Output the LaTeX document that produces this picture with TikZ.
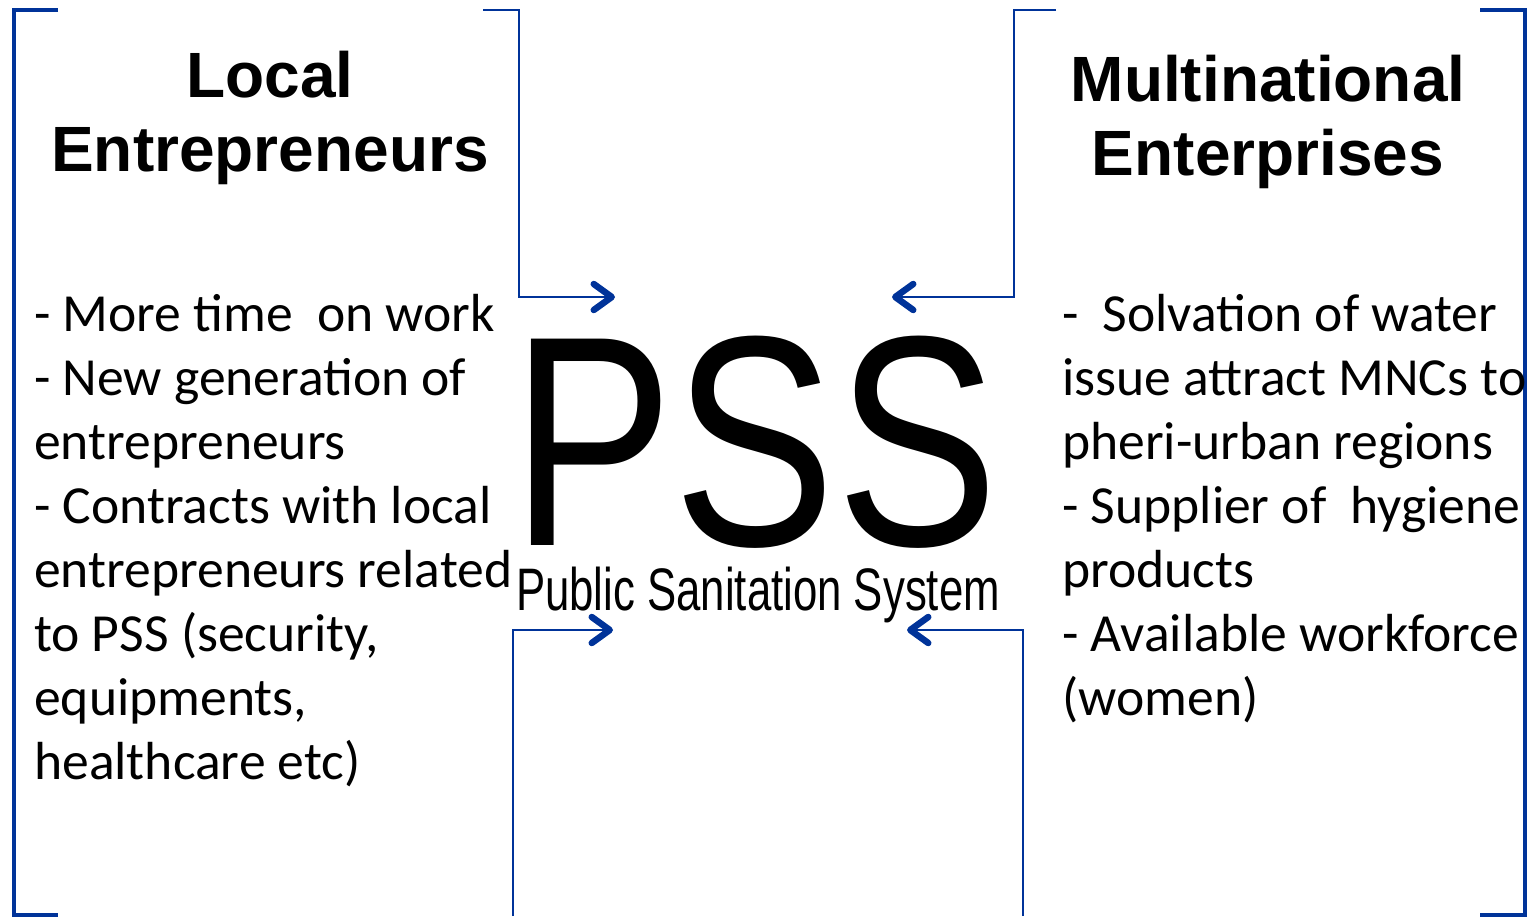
\documentclass[tikz,border=0pt]{standalone}
\usepackage{fontspec}
\setmainfont{Carlito}
\newfontfamily\arialfont{Liberation Sans}
\usetikzlibrary{arrows.meta}
\definecolor{pssblue}{RGB}{0,51,153}

\begin{document}
\begin{tikzpicture}[x=1pt,y=-1pt,
    bracket/.style={draw=pssblue,line width=4pt},
    conn/.style={draw=pssblue,line width=2pt,
      -{Straight Barb[length=18pt,width=26pt,line width=6.5pt,round]}},
    head/.style={font=\arialfont\bfseries\fontsize{64}{74}\selectfont,
      align=center,inner sep=0pt,anchor=base},
    items/.style={font=\fontsize{53.6}{64}\selectfont,
      align=left,inner sep=0pt,anchor=base west}]
  \useasboundingbox (0,0) rectangle (1532,916);

  % side brackets
  \draw[bracket] (58,9.5) -- (13.5,9.5) -- (13.5,914.5) -- (58,914.5);
  \draw[bracket] (1480,9.5) -- (1525,9.5) -- (1525,914.5) -- (1480,914.5);

  % titles (base = last line)
  \node[head] (lochead) at (270,171) {Local\\Entrepreneurs};
  \node[head] (mnchead) at (1268,175) {Multinational\\Enterprises};

  % lists (base = last line)
  \node[items] (loclist) at (34,779) {- More time~ on work\\
    - New generation of\\entrepreneurs\\
    - Contracts with local\\entrepreneurs related\\
    to PSS (security,\\equipments,\\healthcare etc)};
  \node[items] (mnclist) at (1062,715) {-~ Solvation of water\\
    issue attract MNCs to\\pheri-urban regions\\
    - Supplier of~ hygiene\\products\\
    - Available workforce\\(women)};

  % centre
  \node[font=\arialfont\fontsize{300}{300}\selectfont,inner sep=0pt,
    anchor=base] (pss) at (755,545) {\scalebox{0.81}[1]{PSS}};
  \node[font=\arialfont\fontsize{60}{60}\selectfont,inner sep=0pt,
    anchor=base] (pssname) at (758,610)
    {\scalebox{0.729}[1]{Public Sanitation System}};

  % connectors
  \coordinate (tlstart) at (483,10);
  \coordinate (tlbend) at (519,297);
  \coordinate (tlend) at (615,297);
  \coordinate (trstart) at (1056,10);
  \coordinate (trbend) at (1014,297);
  \coordinate (trend) at (892,297);
  \coordinate (blstart) at (513,916);
  \coordinate (blbend) at (513,630);
  \coordinate (blend) at (613,630);
  \coordinate (brstart) at (1022.5,916);
  \coordinate (brbend) at (1022.5,630);
  \coordinate (brend) at (907,630);
  \draw[conn] (tlstart) -| (tlbend) -- (tlend);
  \draw[conn] (trstart) -| (trbend) -- (trend);
  \draw[conn] (blstart) -- (blbend) -- (blend);
  \draw[conn] (brstart) -- (brbend) -- (brend);
\end{tikzpicture}
\end{document}
